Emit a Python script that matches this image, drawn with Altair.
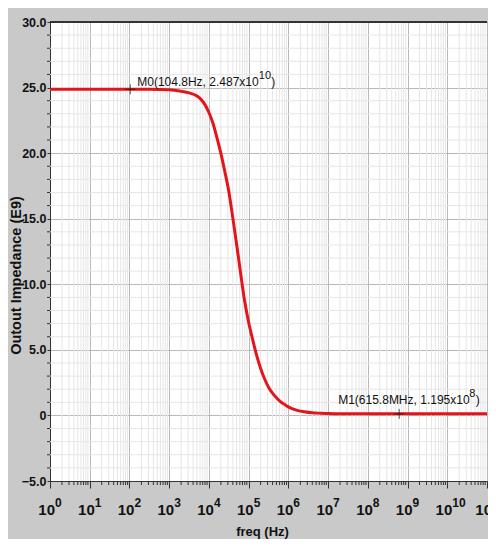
import altair as alt
import pandas as pd

# ---- data ----
log_freq = [0, 1, 2, 2.5, 3.0, 3.3, 3.5, 3.7, 3.8, 3.9, 4.0, 4.1, 4.2, 4.3, 4.4,
            4.5, 4.6, 4.7, 4.8, 4.9, 5.0, 5.1, 5.2, 5.3, 5.4, 5.5, 5.6, 5.7, 5.8,
            5.9, 6.0, 6.2, 6.4, 6.6, 6.8, 7.0, 7.3, 8, 9, 10, 11]
impedance = [24.87, 24.87, 24.87, 24.87, 24.83, 24.72, 24.6, 24.35, 24.1, 23.7,
             23.1, 22.3, 21.2, 20.0, 18.6, 17.1, 15.1, 13.0, 10.8, 8.7, 7.1, 5.8,
             4.6, 3.6, 2.8, 2.15, 1.7, 1.35, 1.05, 0.85, 0.65, 0.4, 0.28, 0.2,
             0.17, 0.15, 0.13, 0.12, 0.12, 0.12, 0.12]

marker_names = ["M0", "M1"]
marker_freq = [104.8, 615.8e6]
marker_value = [24.87, 0.1195]
marker_main = ["M0(104.8Hz, 2.487x10", "M1(615.8MHz, 1.195x10"]
marker_sup = ["10", "8"]

x_tick_exps = list(range(0, 12))
x_tick_base = ["10"] * 12
x_tick_sup = [str(e) for e in x_tick_exps]
y_ticks = [-5, 0, 5, 10, 15, 20, 25, 30]

FONT = "Liberation Sans"
W, H = 437, 459

curve = pd.DataFrame({"freq": [10 ** e for e in log_freq], "z": impedance})
markers = pd.DataFrame({"name": marker_names, "freq": marker_freq, "z": marker_value,
                        "main": marker_main, "sup": marker_sup, "close": [")", ")"]})
xticks = pd.DataFrame({"freq": [10 ** e for e in x_tick_exps], "base": x_tick_base,
                       "sup": x_tick_sup})

minor_x = pd.DataFrame({"freq": [k * 10 ** d for d in range(0, 11) for k in range(2, 10)]})
minor_y = pd.DataFrame({"z": [v for v in range(-4, 30) if v % 5 != 0]})

xscale = alt.Scale(type="log", domain=[1, 1e11], nice=False)
yscale = alt.Scale(domain=[-5, 30], nice=False, zero=False)

xaxis = alt.Axis(values=[10 ** e for e in x_tick_exps], labels=False,
                 title="freq (Hz)", grid=True, gridColor="#b8b8b8", gridWidth=1,
                 tickColor="#333", tickSize=7, domainColor="#333",
                 titleFont=FONT, titleFontSize=13, titleFontWeight="bold",
                 titleColor="#111", titleX=212, titleY=54, titleBaseline="alphabetic")
yaxis = alt.Axis(values=y_ticks,
                 labelExpr="datum.value == 0 ? '0' : format(datum.value, '.1f')",
                 title="Outout Impedance (E9)", grid=True, gridColor="#b8b8b8",
                 tickColor="#333", tickSize=3, domainColor="#333",
                 labelFont=FONT, labelFontSize=12.5, labelFontWeight="bold",
                 labelColor="#111", labelPadding=1,
                 titleFont=FONT, titleFontSize=14.5, titleFontWeight="bold",
                 titleColor="#111", titleX=-27, titleY=253, titleBaseline="bottom")

X = alt.X("freq:Q", scale=xscale, axis=xaxis)
Y = alt.Y("z:Q", scale=yscale, axis=yaxis)

vminor = alt.Chart(minor_x).mark_rule(color="#e6e6e6", strokeWidth=1).encode(x=X)
hminor = alt.Chart(minor_y).mark_rule(color="#e6e6e6", strokeWidth=1).encode(y=Y)

base_line = alt.Chart(curve).mark_line(color="#e3151b", strokeWidth=3,
                                       interpolate="monotone").encode(x=X, y=Y)

xminorticks = alt.Chart(minor_x).mark_rule(color="#333", strokeWidth=1).encode(
    x=X, y=alt.value(H), y2=alt.value(H + 4)
)
yminorticks = alt.Chart(minor_y).mark_rule(color="#333", strokeWidth=1).encode(
    y=Y, x=alt.value(-3), x2=alt.value(0)
)
topline = alt.Chart(pd.DataFrame({"z": [30]})).mark_rule(color="#333", strokeWidth=2).encode(y=Y)

# x tick labels as 10 with raised exponent
xlab_base = alt.Chart(xticks).mark_text(
    align="right", baseline="alphabetic", dx=5, font=FONT, fontSize=15,
    fontWeight="bold", color="#111"
).encode(x=X, y=alt.value(H + 34), text="base:N")
xlab_sup = alt.Chart(xticks).mark_text(
    align="left", baseline="alphabetic", dx=5, font=FONT, fontSize=12,
    fontWeight="bold", color="#111"
).encode(x=X, y=alt.value(H + 26), text="sup:N")

cross = "M-1,0L1,0M0,-1L0,1"
marks = alt.Chart(markers).mark_point(shape=cross, color="#111", size=100, strokeWidth=1,
                                      filled=False).encode(x=X, y=Y)

label_layers = []
# (name, dx main, dx sup, dx close, dy main, dy sup)
label_pos = [("M0", 7, 128.5, 141, -3, -10), ("M1", -61, 70, 76.5, -10, -17)]
for name, dxm, dxs, dxc, dym, dys in label_pos:
    sub = markers[markers.name == name]
    label_layers.append(alt.Chart(sub).mark_text(
        align="left", baseline="alphabetic", dx=dxm, dy=dym, font=FONT, fontSize=12,
        color="#111").encode(x=X, y=Y, text="main:N"))
    label_layers.append(alt.Chart(sub).mark_text(
        align="left", baseline="alphabetic", dx=dxs, dy=dys, font=FONT, fontSize=11,
        color="#111").encode(x=X, y=Y, text="sup:N"))
    label_layers.append(alt.Chart(sub).mark_text(
        align="left", baseline="alphabetic", dx=dxc, dy=dym, font=FONT, fontSize=12,
        color="#111").encode(x=X, y=Y, text="close:N"))

chart = alt.layer(vminor, hminor, base_line, xminorticks, yminorticks, topline,
                  xlab_base, xlab_sup, marks, *label_layers).properties(
    width=W, height=H,
    padding={"left": 42, "top": 14, "right": 1, "bottom": 58},
    autosize="none",
    background="#c9c9c9",
).configure_view(fill="white", stroke="#333", strokeWidth=1)

chart.save("out.html", embed_options={"renderer": "svg", "actions": False})
